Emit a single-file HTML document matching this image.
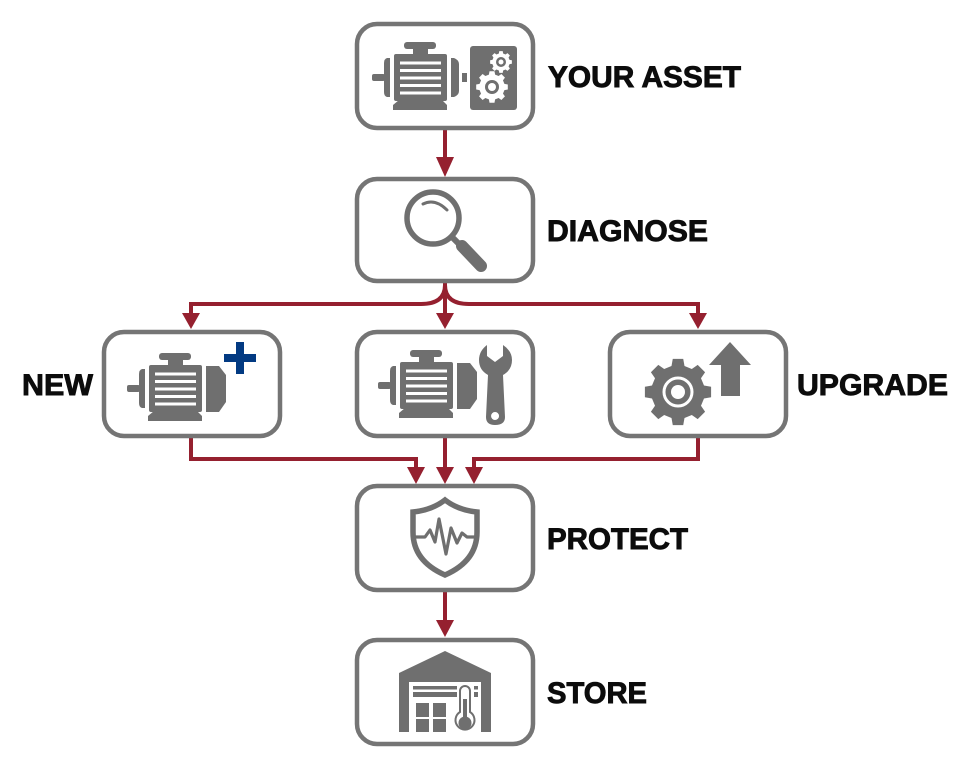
<!DOCTYPE html>
<html><head><meta charset="utf-8"><style>html,body{margin:0;padding:0;background:#fff}svg{display:block}text{font-family:"Liberation Sans",sans-serif;font-weight:700;font-size:30px;fill:#0c0c0c;stroke:#0c0c0c;stroke-width:.9px}</style></head>
<body>
<svg width="980" height="768" viewBox="0 0 980 768" xmlns="http://www.w3.org/2000/svg">
<defs>
<g id="motor" fill="#6f6f6f">
<rect x="372" y="74" width="13" height="7" rx="2"/>
<path d="M390 58V97H387Q384 96 384 92V63Q384 59 387 58Z"/>
<rect x="394" y="54" width="53" height="47" rx="2"/>
<path d="M399 100H442L447 105V110H393V105Z"/>
<rect x="404" y="42" width="32" height="7" rx="3"/>
<rect x="413" y="48" width="15" height="7"/>
<g fill="#fff"><rect x="400" y="61.500" width="41" height="3"/><rect x="400" y="69" width="41" height="3"/><rect x="400" y="76.500" width="41" height="3"/><rect x="400" y="84" width="41" height="3"/><rect x="400" y="91.500" width="41" height="3"/></g>
</g>
<path id="bell" fill="#6f6f6f" d="M451 55H464L471 64V91L464 101H451Z"/>
<polygon id="gear" points=".776,-.194 .988,-.156 .988,.156 .776,.194 .686,.412 .809,.588 .588,.809 .412,.686 .194,.776 .156,.988 -.156,.988 -.194,.776 -.412,.686 -.588,.809 -.809,.588 -.686,.412 -.776,.194 -.988,.156 -.988,-.156 -.776,-.194 -.686,-.412 -.809,-.588 -.588,-.809 -.412,-.686 -.194,-.776 -.156,-.988 .156,-.988 .194,-.776 .412,-.686 .588,-.809 .809,-.588 .686,-.412"/>
</defs>

<g fill="none" stroke="#95202f" stroke-width="4">
<path d="M445 130V160"/>
<path d="M445 283V315"/>
<path d="M445 285Q445 304 421 304H191V316"/>
<path d="M445 285Q445 304 469 304H698V316"/>
<path d="M191 438V459H416V470"/>
<path d="M445 438V470"/>
<path d="M698 438V459H474V470"/>
<path d="M445 592V624"/>
</g>
<g fill="#95202f">
<path d="M436 157H454L445 177Z"/>
<path d="M182 313H200L191 329Z"/>
<path d="M436 313H454L445 329Z"/>
<path d="M689 313H707L698 329Z"/>
<path d="M407 467H425L416 484Z"/>
<path d="M436 467H454L445 484Z"/>
<path d="M465 467H483L474 484Z"/>
<path d="M436 620H454L445 637Z"/>
</g>

<g fill="#fff" stroke="#757575" stroke-width="4.500">
<rect x="357" y="24" width="176" height="104" rx="20"/>
<rect x="357" y="179" width="176" height="102" rx="20"/>
<rect x="104" y="332" width="176" height="104" rx="20"/>
<rect x="357" y="332" width="176" height="104" rx="20"/>
<rect x="610" y="332" width="176" height="104" rx="20"/>
<rect x="357" y="486" width="176" height="104" rx="20"/>
<rect x="357" y="640" width="176" height="104" rx="20"/>
</g>

<!-- YOUR ASSET -->
<use href="#motor"/>
<path fill="#6f6f6f" d="M451 58H454Q459 60 459 64V91Q459 95 454 97H451Z"/>
<rect x="462" y="73" width="5" height="9" fill="#6f6f6f"/>
<rect x="470" y="46" width="47" height="64" rx="3" fill="#6f6f6f"/>
<use href="#gear" fill="#fff" transform="translate(492 87) scale(16)"/>
<circle cx="492" cy="87" r="7" fill="#6f6f6f"/><circle cx="492" cy="87" r="4" fill="#fff"/>
<use href="#gear" fill="#fff" transform="translate(501 62) scale(11)"/>
<circle cx="501" cy="62" r="5" fill="#6f6f6f"/><circle cx="501" cy="62" r="2.500" fill="#fff"/>

<!-- DIAGNOSE -->
<circle cx="433" cy="218" r="26" fill="none" stroke="#6f6f6f" stroke-width="5.500"/>
<path d="M423 204Q435 198 447 210" fill="none" stroke="#6f6f6f" stroke-width="3" stroke-linecap="round"/>
<path d="M452 237L462 247" stroke="#6f6f6f" stroke-width="6"/>
<path d="M462 246L481 266" stroke="#6f6f6f" stroke-width="12" stroke-linecap="round"/>

<!-- NEW -->
<use href="#motor" transform="translate(-245 311)"/>
<use href="#bell" transform="translate(-245 311)"/>
<path fill="#023a82" d="M236 342H244V354H256V362H244V374H236V362H224V354H236Z"/>

<!-- REPAIR -->
<use href="#motor" transform="translate(6 308)"/>
<use href="#bell" transform="translate(6 308)"/>
<path fill="#6f6f6f" fill-rule="evenodd" d="M487 345V356L495 362L503 356V345Q512 351 512 360Q512 370 503 375L505 417Q505 425 495 425Q486 425 486 417L488 375Q479 370 479 360Q479 351 487 345ZM495 412A4 4 0 1 0 495.100 420A4 4 0 1 0 495 412Z"/>

<!-- UPGRADE -->
<use href="#gear" fill="#6f6f6f" transform="translate(678 392) scale(33.500)"/>
<circle cx="678" cy="392" r="14" fill="none" stroke="#fff" stroke-width="3"/>
<circle cx="678" cy="392" r="7" fill="#fff"/>
<path fill="#6f6f6f" d="M730 342L751 365H740V396H721V365H709Z"/>

<!-- PROTECT -->
<path fill="none" stroke="#6f6f6f" stroke-width="5.500" d="M445 500Q458 510 477 512V532Q477 561 445 575Q413 561 413 532V512Q432 510 445 500Z"/>
<path fill="none" stroke="#6f6f6f" stroke-width="3.200" stroke-linejoin="round" d="M413 537H425L430 530L435 542L439 519L446 554L451 528L457 543L462 533L467 537H477"/>

<!-- STORE -->
<path fill="#6f6f6f" d="M445 651L491 673V732H481V682H409V732H399V673Z"/>
<g fill="#6f6f6f">
<rect x="413" y="686" width="44" height="3.500"/><rect x="413" y="692" width="44" height="5"/>
<rect x="474" y="686" width="4" height="3.500"/><rect x="474" y="692" width="4" height="5"/>
<rect x="416" y="703" width="13" height="14"/><rect x="433" y="703" width="13" height="14"/>
<rect x="416" y="719" width="13" height="13"/><rect x="433" y="719" width="13" height="13"/>
</g>
<path fill="#fff" stroke="#6f6f6f" stroke-width="2" d="M460 712V691A5 5 0 0 1 470 691V712A9.500 9.500 0 1 1 460 712Z"/>
<rect x="463" y="699" width="4" height="18" fill="#6f6f6f"/><circle cx="465" cy="723" r="6.500" fill="#6f6f6f"/>

<text x="548" y="87" textLength="193" lengthAdjust="spacingAndGlyphs">YOUR ASSET</text>
<text x="547" y="241" textLength="161" lengthAdjust="spacingAndGlyphs">DIAGNOSE</text>
<text x="22" y="395" textLength="71" lengthAdjust="spacingAndGlyphs">NEW</text>
<text x="797" y="395" textLength="151" lengthAdjust="spacingAndGlyphs">UPGRADE</text>
<text x="547" y="549" textLength="141" lengthAdjust="spacingAndGlyphs">PROTECT</text>
<text x="547" y="703" textLength="100" lengthAdjust="spacingAndGlyphs">STORE</text>
</svg>
</body></html>
